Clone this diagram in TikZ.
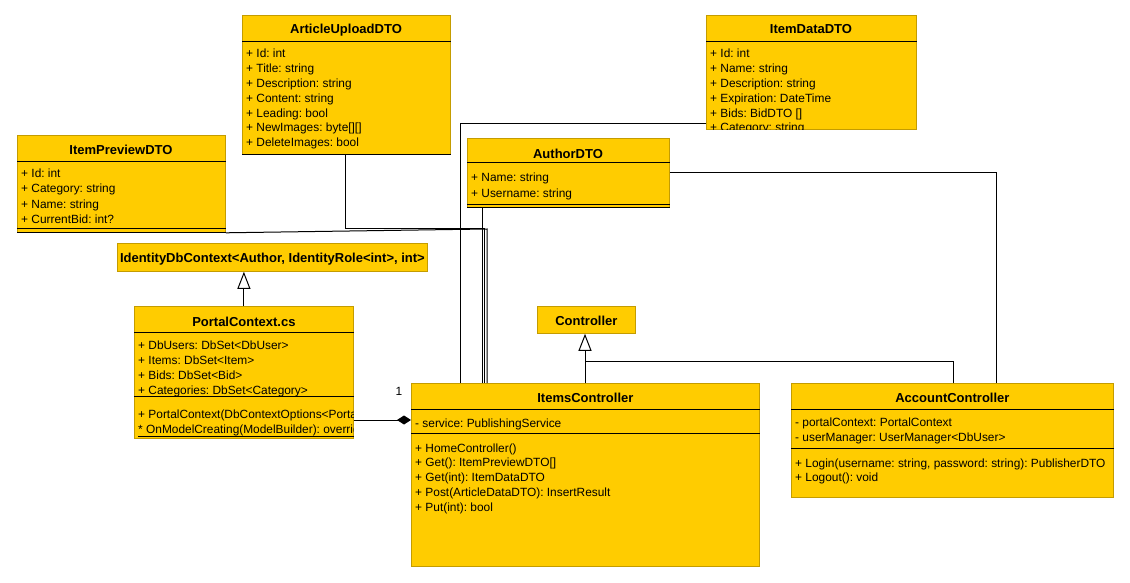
\documentclass[tikz,border=0pt]{standalone}
\usepackage{fontspec}
\setmainfont{Liberation Sans}
\frenchspacing
\usetikzlibrary{arrows.meta}
\definecolor{classfill}{RGB}{255,204,0}
\definecolor{classedge}{RGB}{196,156,0}
\tikzset{
  classbox/.style={draw=classedge, fill=classfill, line width=0.8pt, inner sep=0pt, anchor=north west},
  classtitle/.style={font=\fontsize{13}{15}\selectfont\bfseries, inner sep=0pt, anchor=base},
  member/.style={font=\fontsize{11.9}{14}\selectfont, inner sep=0pt, anchor=base west},
  compline/.style={line width=1pt, black},
  link/.style={line width=1pt, black},
  inherit/.style={link, -{Triangle[open, fill=white, length=17pt, width=13pt]}},
  owns/.style={link, -{Diamond[length=14pt, width=9pt]}}
}
\begin{document}
\begin{tikzpicture}[x=1pt,y=-1pt]
  \fill[white] (0,0) rectangle (1130,583);
  \useasboundingbox (0,0) rectangle (1130,583);

  % ItemPreviewDTO
  \node[classbox, minimum width=208, minimum height=97] (itempreview) at (17,135) {};
  \node[classtitle] at (121,154.5) {ItemPreviewDTO};
  \draw[compline] (itempreview.west |- 0,162) -- (itempreview.east |- 0,162);
  \foreach \m [count=\i from 0] in {{+ Id: int},{+ Category: string},{+ Name: string},{+ CurrentBid: int?}}
    \node[member] at (21,178+15*\i) {\m};
  \draw[compline] (itempreview.west |- 0,228) -- (itempreview.east |- 0,228);
  \draw[compline] (itempreview.south west) -- (itempreview.south east);

  % ArticleUploadDTO
  \node[classbox, minimum width=208, minimum height=139] (articleupload) at (242,15) {};
  \node[classtitle] at (346,33.5) {ArticleUploadDTO};
  \draw[compline] (articleupload.west |- 0,42) -- (articleupload.east |- 0,42);
  \foreach \m [count=\i from 0] in {{+ Id: int},{+ Title: string},{+ Description: string},{+ Content: string},%
      {+ Leading: bool},{+ NewImages: byte[][]},{+ DeleteImages: bool}}
    \node[member] at (246,58+14.8*\i) {\m};
  \draw[compline] (articleupload.south west) -- (articleupload.south east);

  % ItemDataDTO
  \node[classbox, minimum width=210, minimum height=114] (itemdata) at (706,15) {};
  \node[classtitle] at (811,33.5) {ItemDataDTO};
  \draw[compline] (itemdata.west |- 0,42) -- (itemdata.east |- 0,42);
  \begin{scope}
    \clip (itemdata.north west) rectangle (itemdata.south east);
    \foreach \m [count=\i from 0] in {{+ Id: int},{+ Name: string},{+ Description: string},%
        {+ Expiration: DateTime},{+ Bids: BidDTO []},{+ Category: string}}
      \node[member] at (710,58+14.8*\i) {\m};
  \end{scope}

  % AuthorDTO
  \node[classbox, minimum width=202, minimum height=69] (authordto) at (467,138) {};
  \node[classtitle] at (568,158.5) {AuthorDTO};
  \draw[compline] (authordto.west |- 0,163) -- (authordto.east |- 0,163);
  \node[member] at (471,182) {+ Name: string};
  \node[member] at (471,197) {+ Username: string};
  \draw[compline] (authordto.west |- 0,204) -- (authordto.east |- 0,204);
  \draw[compline] (authordto.south west) -- (authordto.south east);

  % IdentityDbContext
  \node[classbox, minimum width=310, minimum height=28] (identityctx) at (117,243) {};
  \node[classtitle] at (identityctx.center |- 0,262) {IdentityDbContext<Author, IdentityRole<int>, int>};

  % Controller
  \node[classbox, minimum width=98, minimum height=27] (controller) at (537,306) {};
  \node[classtitle] at (controller.center |- 0,325) {Controller};

  % PortalContext.cs
  \node[classbox, minimum width=219, minimum height=132] (portalctx) at (134,306) {};
  \node[classtitle] at (portalctx.center |- 0,326) {PortalContext.cs};
  \draw[compline] (portalctx.west |- 0,332) -- (portalctx.east |- 0,332);
  \foreach \m [count=\i from 0] in {{+ DbUsers: DbSet<DbUser>},{+ Items: DbSet<Item>},{+ Bids: DbSet<Bid>},%
      {+ Categories: DbSet<Category>}}
    \node[member] at (138,349+15*\i) {\m};
  \draw[compline] (portalctx.west |- 0,396) -- (portalctx.east |- 0,396);
  \begin{scope}
    \clip (portalctx.north west) rectangle (portalctx.south east);
    \node[member] at (138,418) {+ PortalContext(DbContextOptions<PortalContext> options)};
    \node[member] (modelop) at (138,433) {* OnModelCreating(ModelBuilder): override void};
    \draw[line width=0.7pt] (modelop.base west) ++(0,3) -- ++(260,0);
  \end{scope}

  % ItemsController
  \node[classbox, minimum width=348, minimum height=183] (itemsctrl) at (411,383) {};
  \node[classtitle] at (itemsctrl.center |- 0,402) {ItemsController};
  \draw[compline] (itemsctrl.west |- 0,409) -- (itemsctrl.east |- 0,409);
  \node[member] at (415,427) {- service: PublishingService};
  \draw[compline] (itemsctrl.west |- 0,433) -- (itemsctrl.east |- 0,433);
  \foreach \m [count=\i from 0] in {{+ HomeController()},{+ Get(): ItemPreviewDTO[]},{+ Get(int): ItemDataDTO},%
      {+ Post(ArticleDataDTO): InsertResult},{+ Put(int): bool}}
    \node[member] at (415,452+14.75*\i) {\m};

  % AccountController
  \node[classbox, minimum width=322, minimum height=114] (accountctrl) at (791,383) {};
  \node[classtitle] at (accountctrl.center |- 0,402) {AccountController};
  \draw[compline] (accountctrl.west |- 0,409) -- (accountctrl.east |- 0,409);
  \node[member] at (795,426) {- portalContext: PortalContext};
  \node[member] at (795,441) {- userManager: UserManager<DbUser>};
  \draw[compline] (accountctrl.west |- 0,448) -- (accountctrl.east |- 0,448);
  \node[member] at (795,467) {+ Login(username: string, password: string): PublisherDTO};
  \node[member] at (795,481) {+ Logout(): void};

  % connectors
  \coordinate (genjoin) at (585,361);
  \draw[inherit] (portalctx.north) -- (portalctx.north |- identityctx.south);
  \draw[link] (accountctrl.north -| 953,0) |- (genjoin);
  \draw[inherit] (itemsctrl.north -| genjoin) -- (controller.south -| genjoin);
  \draw[owns] (portalctx.east |- 0,420) -- (itemsctrl.west |- 0,420);
  \node[member, anchor=center] (mult) at (399,391) {1};
  \draw[link] (itemdata.west |- 0,124) -| (itemsctrl.north -| 460,0);
  \draw[link] (articleupload.south -| 345,0) |- (484.5,228) -- (itemsctrl.north -| 484.5,0);
  \draw[link] (itempreview.south east) -- (487,229) -- (itemsctrl.north -| 487,0);
  \draw[link] (authordto.south -| 482,0) -- (itemsctrl.north -| 482,0);
  \draw[link] (authordto.east |- 0,173) -| (accountctrl.north -| 996,0);
\end{tikzpicture}
\end{document}
